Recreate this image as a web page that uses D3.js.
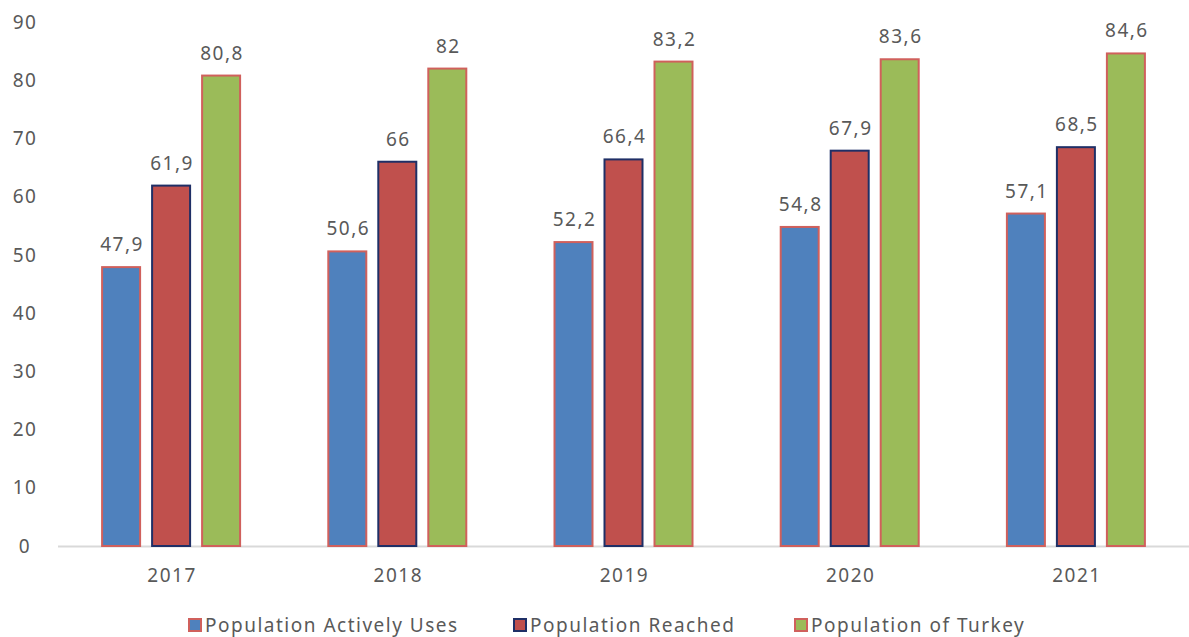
<!DOCTYPE html>
<html>
<head>
<meta charset="utf-8">
<script src="https://cdn.jsdelivr.net/npm/d3@7"></script>
<style>
  body { margin: 0; background: #fff; }
  text { font-family: "Noto Sans", "Open Sans", sans-serif; fill: #595959; letter-spacing: 1.5px; }
</style>
</head>
<body>
<svg id="chart" width="1189" height="637"></svg>
<script>
const years = ['2017', '2018', '2019', '2020', '2021'];
const seriesNames = ['Population Actively Uses', 'Population Reached', 'Population of Turkey'];
const activelyUses = [47.9, 50.6, 52.2, 54.8, 57.1];
const reached = [61.9, 66, 66.4, 67.9, 68.5];
const turkey = [80.8, 82, 83.2, 83.6, 84.6];
const yTicks = [0, 10, 20, 30, 40, 50, 60, 70, 80, 90];

const fills = ['#4f81bd', '#c0504d', '#9bbb59'];
const strokes = ['#d0605c', '#1f2f66', '#d0605c'];

const allSeries = [activelyUses, reached, turkey];
const svg = d3.select('#chart');

const margin = { top: 22, left: 58, right: 0, bottom: 91 };
const width = 1189 - margin.left - margin.right;
const height = 637 - margin.top - margin.bottom;

const g = svg.append('g').attr('transform', `translate(${margin.left},${margin.top})`);

const x = d3.scaleBand().domain(years).range([0, width]);
const xs = d3.scaleBand().domain([0, 1, 2]).range([0, 140]).paddingInner(0.2);
const y = d3.scaleLinear().domain([0, 90]).range([height, 0]);

// y labels (geen as-lijn)
g.append('g').selectAll('text').data(yTicks).join('text')
  .attr('x', -33).attr('y', d => y(d)).attr('dy', '0.35em')
  .attr('text-anchor', 'middle').style('font-size', '19px')
  .text(d => d);

// basislijn
g.append('line').attr('x1', 0).attr('x2', width)
  .attr('y1', y(0) + 0.5).attr('y2', y(0) + 0.5)
  .attr('stroke', '#d9d9d9').attr('stroke-width', 2);

// bars
const rows = [];
years.forEach((yr, i) => allSeries.forEach((s, k) => rows.push({ yr, k, v: s[i] })));

const barX = d => x(d.yr) + x.bandwidth() / 2 - 70 + xs(d.k);

g.selectAll('rect.bar').data(rows).join('rect')
  .attr('class', 'bar')
  .attr('x', d => barX(d) + 1)
  .attr('width', xs.bandwidth() - 2)
  .attr('y', d => y(d.v))
  .attr('height', d => y(0) - y(d.v))
  .attr('fill', d => fills[d.k])
  .attr('stroke', d => strokes[d.k])
  .attr('stroke-width', 2);

g.selectAll('text.lbl').data(rows).join('text')
  .attr('class', 'lbl')
  .attr('x', d => barX(d) + xs.bandwidth() / 2 + 1)
  .attr('y', d => y(d.v) - 16)
  .attr('text-anchor', 'middle').style('font-size', '19px')
  .text(d => String(d.v).replace('.', ','));

// x labels
g.selectAll('text.xl').data(years).join('text')
  .attr('class', 'xl')
  .attr('x', d => x(d) + x.bandwidth() / 2 + 1)
  .attr('y', height + 36)
  .attr('text-anchor', 'middle').style('font-size', '19px')
  .text(d => d);

// legenda
const legendX = [188, 513, 794];
const leg = svg.append('g').selectAll('g').data(seriesNames).join('g')
  .attr('transform', (d, i) => `translate(${legendX[i]},619)`);
leg.append('rect').attr('width', 12).attr('height', 12).attr('x', 1).attr('y', 0)
  .attr('fill', (d, i) => fills[i]).attr('stroke', (d, i) => strokes[i]).attr('stroke-width', 2);
leg.append('text').attr('x', 17).attr('y', 6).attr('dy', '0.35em')
  .style('font-size', '19px').text(d => d);
</script>
</body>
</html>
